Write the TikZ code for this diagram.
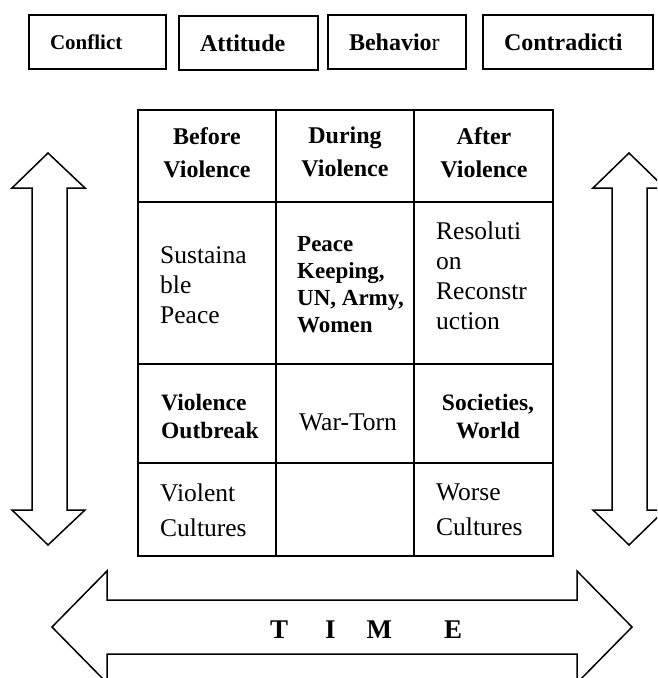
\documentclass[tikz,border=0pt]{standalone}
\usepackage{fontspec}
\setmainfont{Liberation Serif}
\usetikzlibrary{positioning}

\begin{document}
\begin{tikzpicture}[x=1pt,y=-1pt,
    topbox/.style={draw,line width=2pt,anchor=west,minimum height=54pt,inner xsep=21pt,inner ysep=0pt,align=left,font=\bfseries\fontsize{24}{28}\selectfont},
    headtext/.style={anchor=north,align=center,inner sep=0pt,font=\bfseries\fontsize{24}{33}\selectfont},
    celltext/.style={anchor=north west,align=left,inner sep=0pt,font=\fontsize{25.5}{30}\selectfont},
    boldtext/.style={anchor=north west,align=left,inner sep=0pt,font=\bfseries\fontsize{23.5}{28}\selectfont},
    bigarrow/.style={draw,line width=1.5pt,line join=miter}]
    \useasboundingbox (0,0) rectangle (657,678);
    \clip (0,0) rectangle (657,678);

    \node[topbox,text width=95pt,font=\bfseries\fontsize{21}{25}\selectfont] (conflict) at (28,42) {Conflict};
    \node[topbox,text width=97pt] (attitude) at (178,43) {Attitude};
    \node[topbox,text width=96pt] (behavior) at (327,42) {\textbf{Behavio}\mdseries r};
    \node[topbox,text width=128pt] (contradicti) at (482,42) {Contradicti};

    \draw[line width=1.8pt] (138,110) rectangle (553,556);
    \draw[line width=1.8pt] (276,110) -- (276,556);
    \draw[line width=1.8pt] (414,110) -- (414,556);
    \draw[line width=1.8pt] (138,202) -- (553,202);
    \draw[line width=1.8pt] (138,364) -- (553,364);
    \draw[line width=1.8pt] (138,463) -- (553,463);

    \node[headtext] (before) at (207,127) {Before\\Violence};
    \node[headtext] (during) at (345,127) {During\\Violence};
    \node[headtext] (after) at (484,127) {After\\Violence};

    \node[celltext] (sustainable) at (160,246) {Sustaina\\ble\\Peace};
    \node[boldtext,font=\bfseries\fontsize{23}{27}\selectfont] (peacekeeping) at (297,236) {Peace\\Keeping,\\UN, Army,\\Women};
    \node[celltext] (resolution) at (436,222) {Resoluti\\on\\Reconstr\\uction};

    \node[boldtext] (outbreak) at (161,394) {Violence\\Outbreak};
    \node[celltext] (wartorn) at (299,414) {War-Torn};
    \node[boldtext,anchor=north,align=center] (societies) at (488,394) {Societies,\\World};

    \node[celltext,font=\fontsize{25.5}{35}\selectfont] (violent) at (160,484) {Violent\\Cultures};
    \node[celltext,font=\fontsize{25.5}{35}\selectfont] (worse) at (436,484) {Worse\\Cultures};

    \draw[bigarrow] (48,153) -- (85,188) -- (67,188) -- (67,510) -- (85,510) -- (48,545)
        -- (12,510) -- (32,510) -- (32,188) -- (12,188) -- cycle;
    \draw[bigarrow] (629,153) -- (665,188) -- (647,188) -- (647,510) -- (665,510) -- (629,545)
        -- (593,510) -- (612,510) -- (612,188) -- (593,188) -- cycle;
    \draw[bigarrow] (52,627) -- (107,571) -- (107,600) -- (577,600) -- (577,571) -- (632,627)
        -- (577,683) -- (577,654) -- (107,654) -- (107,683) -- cycle;

    \node[anchor=base west,inner sep=0pt,font=\bfseries\fontsize{27}{30}\selectfont] (time) at (270,638)
        {T\hspace{37pt}I\hspace{31pt}M\hspace{52pt}E};
\end{tikzpicture}
\end{document}
